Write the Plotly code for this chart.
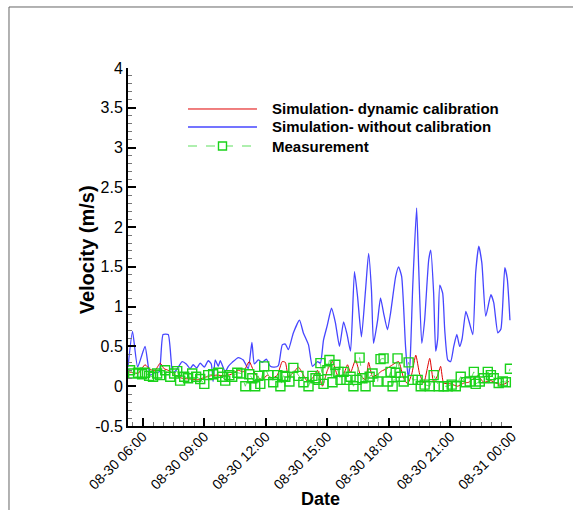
import pandas as pd
import plotly.graph_objects as go

# ---------------- data (hours of day on 08-30, velocity m/s) ----------------
blue_hours = [5.28, 5.50, 5.75, 6.11, 6.36, 6.60, 6.80, 6.99, 7.24, 7.46, 7.63, 7.92, 8.12, 8.31,
              8.46, 8.63, 8.80, 9.00, 9.19, 9.34, 9.43, 9.53, 9.68, 9.78, 10.02, 10.17, 10.36,
              10.66, 10.90, 11.14, 11.32, 11.44, 11.63, 11.83, 12.02, 12.22, 12.41, 12.61, 12.80,
              12.95, 13.10, 13.34, 13.64, 13.83, 14.08, 14.27, 14.52, 14.66, 14.81, 15.00, 15.20,
              15.39, 15.59, 15.79, 15.96, 16.13, 16.32, 16.47, 16.66, 16.86, 17.01, 17.15, 17.25,
              17.45, 17.59, 17.74, 17.93, 18.08, 18.33, 18.47, 18.62, 18.81, 18.94, 19.03, 19.16,
              19.35, 19.45, 19.60, 19.74, 19.94, 20.04, 20.18, 20.28, 20.38, 20.48, 20.62, 20.72,
              20.87, 21.01, 21.16, 21.31, 21.45, 21.57, 21.75, 21.89, 22.09, 22.23, 22.38, 22.53,
              22.72, 22.97, 23.11, 23.31, 23.46, 23.65, 23.77, 23.90]
blue_vals = [0.24, 0.69, 0.24, 0.50, 0.14, 0.17, 0.18, 0.65, 0.65, 0.17, 0.20, 0.31, 0.28, 0.22,
             0.27, 0.23, 0.29, 0.24, 0.32, 0.28, 0.06, 0.33, 0.25, 0.32, 0.18, 0.25, 0.30,
             0.36, 0.33, 0.22, 0.55, 0.28, 0.33, 0.30, 0.34, 0.25, 0.24, 0.26, 0.52,
             0.53, 0.46, 0.67, 0.83, 0.67, 0.52, 0.25, 0.31, 0.29, 0.58, 0.77, 0.98,
             0.80, 0.50, 0.81, 0.65, 0.44, 1.44, 1.13, 0.62, 1.21, 1.67, 1.20, 0.54,
             0.83, 1.11, 0.92, 0.71, 0.92, 1.38, 1.50, 1.38, 0.50, 0.10, 0.30, 1.25,
             2.24, 1.50, 0.54, 0.83, 1.59, 1.71, 1.17, 0.44, 0.60, 1.27, 1.17, 0.71,
             0.33, 0.31, 0.50, 0.65, 0.50, 0.60, 0.94, 0.83, 0.65, 1.43, 1.76, 1.55,
             0.88, 1.15, 1.05, 0.67, 0.72, 1.49, 1.35, 0.83]

red_hours = [5.33, 5.53, 5.77, 6.11, 6.36, 6.60, 6.85, 7.04, 7.24, 7.58, 7.92, 8.31, 8.65, 9.00,
             9.29, 9.63, 9.97, 10.31, 10.66, 10.90, 11.19, 11.39, 11.58, 11.83, 12.07, 12.31,
             12.56, 12.80, 12.95, 13.10, 13.34, 13.59, 13.83, 14.03, 14.27, 14.52, 14.76, 15.00,
             15.25, 15.49, 15.74, 15.98, 16.13, 16.37, 16.61, 16.86, 17.01, 17.20, 17.45, 17.64,
             17.89, 18.18, 18.47, 18.72, 18.91, 19.11, 19.31, 19.50, 19.70, 19.99, 20.18, 20.38,
             20.52, 20.67, 21.01, 21.35, 21.65, 21.89, 22.33, 22.62, 22.97, 23.21, 23.55, 23.85]
red_vals = [0.18, 0.17, 0.16, 0.27, 0.21, 0.20, 0.29, 0.22, 0.20, 0.14, 0.10, 0.09, 0.08, 0.11,
            0.13, 0.14, 0.13, 0.15, 0.20, 0.18, 0.31, 0.20, 0.12, 0.08, 0.14, 0.10,
            0.14, 0.31, 0.30, 0.12, 0.17, 0.24, 0.14, 0.06, 0.10, 0.20, 0.00, 0.20,
            0.31, 0.14, 0.12, 0.27, 0.17, 0.33, 0.14, 0.08, 0.30, 0.12, 0.15, 0.19,
            0.22, 0.27, 0.31, 0.10, 0.03, 0.15, 0.39, 0.15, 0.04, 0.35, 0.05, 0.14,
            0.25, 0.04, 0.03, 0.00, 0.04, 0.05, 0.13, 0.05, 0.07, 0.04, 0.02, 0.06]

meas_hours = [5.38, 5.53, 5.77, 5.97, 6.11, 6.31, 6.50, 6.70, 6.85, 7.09, 7.34, 7.53, 7.68, 7.82,
              8.02, 8.21, 8.41, 8.60, 8.80, 9.00, 9.19, 9.43, 9.68, 9.87, 10.02, 10.22, 10.36,
              10.61, 10.80, 11.00, 11.19, 11.34, 11.48, 11.63, 11.73, 11.92, 12.12, 12.36, 12.56,
              12.71, 12.85, 12.95, 13.15, 13.34, 13.59, 13.83, 14.08, 14.27, 14.42, 14.56, 14.66,
              14.81, 15.00, 15.10, 15.25, 15.39, 15.54, 15.64, 15.79, 15.93, 16.13, 16.27, 16.42,
              16.57, 16.71, 16.86, 17.06, 17.20, 17.45, 17.59, 17.74, 17.93, 18.08, 18.18, 18.33,
              18.42, 18.57, 18.72, 18.96, 19.16, 19.40, 19.55, 19.74, 19.99, 20.18, 20.43, 20.67,
              20.87, 21.06, 21.26, 21.50, 21.75, 21.94, 22.14, 22.23, 22.43, 22.62, 22.82, 22.97,
              23.11, 23.35, 23.55, 23.70, 23.90]
meas_vals = [0.20, 0.16, 0.17, 0.15, 0.17, 0.13, 0.12, 0.16, 0.14, 0.20, 0.12, 0.16, 0.19, 0.07,
             0.12, 0.10, 0.16, 0.12, 0.09, 0.03, 0.14, 0.15, 0.17, 0.12, 0.07, 0.14, 0.12,
             0.17, 0.16, 0.00, 0.15, 0.10, 0.00, 0.13, 0.03, 0.25, 0.14, 0.05, 0.14,
             0.00, 0.13, 0.12, 0.06, 0.23, 0.13, 0.05, 0.00, 0.13, 0.10, 0.08, 0.29,
             0.03, 0.20, 0.33, 0.05, 0.27, 0.18, 0.08, 0.18, 0.08, 0.12, 0.00, 0.08,
             0.36, 0.10, 0.00, 0.12, 0.16, 0.06, 0.34, 0.35, 0.06, 0.18, 0.00, 0.17,
             0.35, 0.12, 0.06, 0.30, 0.08, 0.08, 0.00, 0.02, 0.00, 0.14, 0.00, 0.00,
             0.00, 0.02, 0.00, 0.12, 0.05, 0.06, 0.18, 0.03, 0.06, 0.10, 0.18, 0.14,
             0.10, 0.04, 0.06, 0.05, 0.22]

series_names = ["Simulation- dynamic calibration", "Simulation- without calibration", "Measurement"]
y_ticks = [-0.5, 0, 0.5, 1, 1.5, 2, 2.5, 3, 3.5, 4]
y_tick_text = ["-0.5", "0", "0.5", "1", "1.5", "2", "2.5", "3", "3.5", "4"]

base = pd.Timestamp("2023-08-30 00:00")
def to_time(h):
    return base + pd.to_timedelta(pd.Series(h), unit="h")

FONT = "Arial, Liberation Sans, sans-serif"
RED = "#e00000"
BLUE = "#4646ff"
GREEN_M = "#1ad21a"
GREEN_L = "#5ee05e"

fig = go.Figure()
fig.add_trace(go.Scatter(x=to_time(blue_hours), y=blue_vals, mode="lines",
                         line=dict(color=BLUE, width=1.3, shape="spline", smoothing=0.5),
                         name=series_names[1], showlegend=False))
fig.add_trace(go.Scatter(x=to_time(red_hours), y=red_vals, mode="lines",
                         line=dict(color=RED, width=1, shape="spline", smoothing=0.5),
                         name=series_names[0], showlegend=False))
fig.add_trace(go.Scatter(x=to_time(meas_hours), y=meas_vals, mode="lines+markers",
                         line=dict(color=GREEN_L, width=1, dash="dash"),
                         marker=dict(symbol="square-open", size=9, color=GREEN_M, line=dict(width=1.4)),
                         name=series_names[2], showlegend=False))

fig.update_layout(
    width=573, height=510,
    margin=dict(l=128, r=61, t=68, b=84),
    paper_bgcolor="white", plot_bgcolor="white",
    font=dict(family=FONT, color="black"),
    showlegend=False,
)
fig.update_xaxes(
    type="date", automargin=False,
    range=[base + pd.Timedelta(hours=5.28), base + pd.Timedelta(hours=24)],
    tick0=base + pd.Timedelta(hours=6), dtick=3 * 3600 * 1000,
    tickformat="%m-%d %H:%M", tickangle=-45,
    tickfont=dict(size=14, family=FONT, color="black"),
    ticklabelstandoff=-5,
    showline=True, linecolor="black", linewidth=2, mirror=False,
    ticks="inside", ticklen=8, tickwidth=2, tickcolor="black",
    minor=dict(ticks="inside", ticklen=4, tickwidth=1, tickcolor="#777", dtick=1800 * 1000),
    showgrid=False, zeroline=False,
)
fig.update_yaxes(
    automargin=False,
    range=[-0.5, 4], tickmode="array", tickvals=y_ticks, ticktext=y_tick_text,
    tickfont=dict(size=16, family=FONT, color="black"),
    showline=True, linecolor="black", linewidth=2,
    ticks="inside", ticklen=8, tickwidth=2, tickcolor="black",
    minor=dict(ticks="inside", ticklen=4, tickwidth=1, tickcolor="#777", dtick=0.1, tick0=0),
    showgrid=False, zeroline=False,
)

# axis titles
fig.add_annotation(text="<b>Velocity (m/s)</b>", textangle=-90, xref="paper", yref="paper",
                   x=-0.106, y=0.4916, xanchor="center", yanchor="middle", showarrow=False,
                   font=dict(size=20, family=FONT, color="black"))
fig.add_annotation(text="<b>Date</b>", xref="paper", yref="paper", x=0.5, y=-0.204,
                   xanchor="center", yanchor="middle", showarrow=False,
                   font=dict(size=18, family=FONT, color="black"))

# custom legend
leg_y = [0.8855, 0.8352, 0.7821]
lx0, lx1, tx = 0.15625, 0.3359, 0.3698
fig.add_shape(type="line", xref="paper", yref="paper", x0=lx0, x1=lx1, y0=leg_y[0], y1=leg_y[0],
              line=dict(color=RED, width=1))
fig.add_shape(type="line", xref="paper", yref="paper", x0=lx0, x1=lx1, y0=leg_y[1], y1=leg_y[1],
              line=dict(color=BLUE, width=1.3))
fig.add_shape(type="line", xref="paper", yref="paper", x0=lx0, x1=lx1, y0=leg_y[2], y1=leg_y[2],
              line=dict(color=GREEN_L, width=1.2, dash="dash"))
fig.add_shape(type="rect", xref="paper", yref="paper", xsizemode="pixel", ysizemode="pixel",
              xanchor=(lx0 + lx1) / 2, yanchor=leg_y[2], x0=-4, x1=4, y0=-4, y1=4,
              line=dict(color=GREEN_M, width=1.4), fillcolor="white")
for name, yy in zip(series_names, leg_y):
    fig.add_annotation(text="<b>" + name + "</b>", xref="paper", yref="paper", x=tx, y=yy,
                       xanchor="left", yanchor="middle", showarrow=False,
                       font=dict(size=15, family=FONT, color="black"))

# outer frame (top and left edges)
fig.add_shape(type="line", xref="paper", yref="paper", x0=-0.3099, x1=-0.3099, y0=1.1704, y1=-0.2346,
              line=dict(color="#666", width=1))
fig.add_shape(type="line", xref="paper", yref="paper", x0=-0.3099, x1=1.1589, y0=1.1704, y1=1.1704,
              line=dict(color="#666", width=1))

fig.write_html("out.html")
